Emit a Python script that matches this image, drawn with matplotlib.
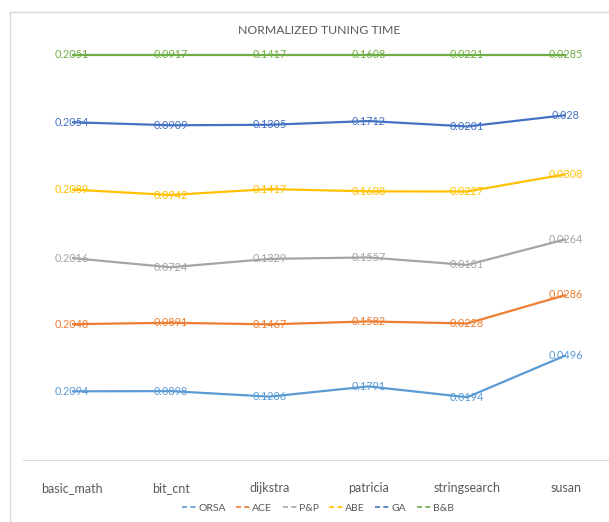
import numpy as np
import matplotlib
matplotlib.use("Agg")
import matplotlib.pyplot as plt
from matplotlib.lines import Line2D

plt.rcParams['font.family'] = ['Lato', 'DejaVu Sans']

benchmarks = ['basic_math', 'bit_cnt', 'dijkstra', 'patricia', 'stringsearch', 'susan']
methods = ['ORSA', 'ACE', 'P&P', 'ABE', 'GA', 'B&B']
colors = ['#5B9BD5', '#ED7D31', '#A5A5A5', '#FFC000', '#4472C4', '#70AD47']

orsa = [0.2094, 0.0898, 0.1286, 0.1791, 0.0194, 0.0496]
ace = [0.2048, 0.0891, 0.1467, 0.1582, 0.0228, 0.0286]
pp = [0.2016, 0.0724, 0.1329, 0.1557, 0.0181, 0.0264]
abe = [0.2089, 0.0942, 0.1417, 0.1608, 0.0227, 0.0308]
ga = [0.2054, 0.0909, 0.1305, 0.1712, 0.0201, 0.028]
bb = [0.2051, 0.0917, 0.1417, 0.1608, 0.0221, 0.0285]

vals = np.array([orsa, ace, pp, abe, ga, bb])
# 100% stacked: each benchmark column is scaled to its total
share = np.cumsum(vals, axis=0) / vals.sum(axis=0)

fig = plt.figure(figsize=(6.09, 5.22), dpi=100)
ax = fig.add_axes([0.037, 0.1188, 0.9734, 0.7759])

x = np.arange(len(benchmarks))
for i, name in enumerate(methods):
    ax.plot(x, share[i], color=colors[i], lw=1.6, solid_capstyle='butt',
            clip_on=False)
    for xi, yi, v in zip(x, share[i], vals[i]):
        ax.text(xi, yi, str(v), color=colors[i], fontsize=7.8,
                ha='center', va='center', clip_on=False)

ax.set_xlim(-0.5, 5.5)
ax.set_ylim(0, 1)
ax.set_xticks(x)
ax.set_xticklabels(benchmarks, fontsize=9, color='#595959')
ax.tick_params(axis='x', length=0, pad=16)
ax.set_yticks([])
for side in ['left', 'right', 'top']:
    ax.spines[side].set_visible(False)
ax.spines['bottom'].set_color('#D9D9D9')
ax.patch.set_alpha(0)

fig.text(0.524, 0.9425, 'NORMALIZED TUNING TIME', fontsize=8.8,
         color='#595959', ha='center', va='center')

handles = [Line2D([], [], color=c, lw=1.2, ls=(0, (3, 2))) for c in colors]
fig.legend(handles, methods, loc='center', bbox_to_anchor=(0.522, 0.026),
           ncol=6, frameon=False, fontsize=7.5, handlelength=1.4,
           handletextpad=0.15, columnspacing=1.0, labelcolor='#595959')

# chart area border
fig.add_artist(Line2D([10 / 609, 10 / 609], [0, 1 - 12 / 522],
                      transform=fig.transFigure, color='#D9D9D9', lw=1))
fig.add_artist(Line2D([10 / 609, 1], [1 - 12 / 522, 1 - 12 / 522],
                      transform=fig.transFigure, color='#D9D9D9', lw=1))

fig.savefig('out.png', dpi=100)
